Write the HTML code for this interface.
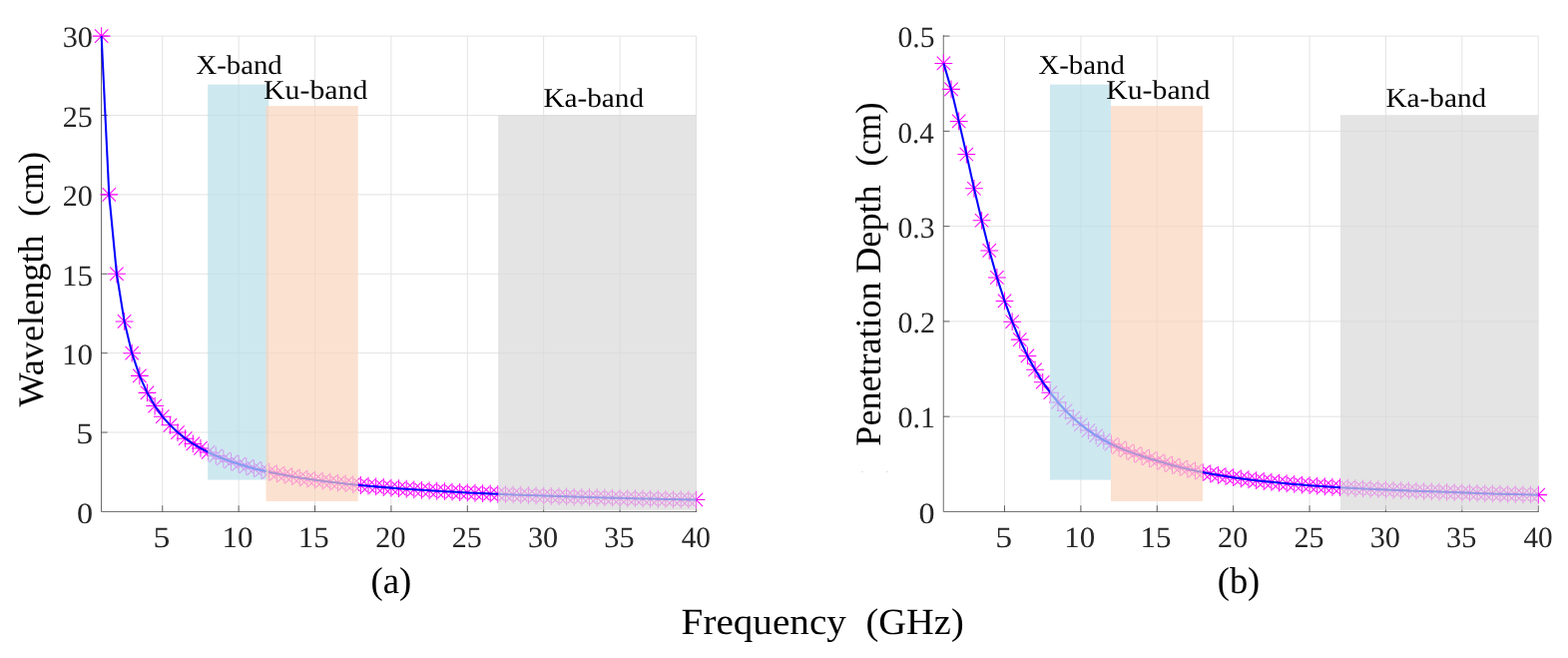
<!DOCTYPE html>
<html lang="en">
<head>
<meta charset="utf-8">
<title>Wavelength and Penetration Depth versus Frequency</title>
<style>
html,body{margin:0;padding:0;background:#ffffff;}
body{width:1571px;height:659px;overflow:hidden;font-family:"Liberation Serif",serif;}
svg text{white-space:pre;text-rendering:geometricPrecision;}
</style>
</head>
<body>
<svg width="1571" height="659" viewBox="0 0 1571 659" font-family="'Liberation Serif', serif" style="display:block">
<line x1="162.76" y1="36.1" x2="162.76" y2="512.45" stroke="#e3e3e3" stroke-width="1.0"/>
<line x1="239.14" y1="36.1" x2="239.14" y2="512.45" stroke="#e3e3e3" stroke-width="1.0"/>
<line x1="315.53" y1="36.1" x2="315.53" y2="512.45" stroke="#e3e3e3" stroke-width="1.0"/>
<line x1="391.91" y1="36.1" x2="391.91" y2="512.45" stroke="#e3e3e3" stroke-width="1.0"/>
<line x1="468.30" y1="36.1" x2="468.30" y2="512.45" stroke="#e3e3e3" stroke-width="1.0"/>
<line x1="544.68" y1="36.1" x2="544.68" y2="512.45" stroke="#e3e3e3" stroke-width="1.0"/>
<line x1="621.07" y1="36.1" x2="621.07" y2="512.45" stroke="#e3e3e3" stroke-width="1.0"/>
<line x1="697.45" y1="36.1" x2="697.45" y2="512.45" stroke="#e3e3e3" stroke-width="1.0"/>
<line x1="101.65" y1="433.06" x2="697.45" y2="433.06" stroke="#e3e3e3" stroke-width="1.0"/>
<line x1="101.65" y1="353.67" x2="697.45" y2="353.67" stroke="#e3e3e3" stroke-width="1.0"/>
<line x1="101.65" y1="274.28" x2="697.45" y2="274.28" stroke="#e3e3e3" stroke-width="1.0"/>
<line x1="101.65" y1="194.88" x2="697.45" y2="194.88" stroke="#e3e3e3" stroke-width="1.0"/>
<line x1="101.65" y1="115.49" x2="697.45" y2="115.49" stroke="#e3e3e3" stroke-width="1.0"/>
<line x1="101.65" y1="36.10" x2="697.45" y2="36.10" stroke="#e3e3e3" stroke-width="1.0"/>
<path d="M101.50 35.7V512.45H697.45" fill="none" stroke="#262626" stroke-width="0.68" stroke-linecap="square"/>
<path d="M162.76 512.45v-6.2M239.14 512.45v-6.2M315.53 512.45v-6.2M391.91 512.45v-6.2M468.30 512.45v-6.2M544.68 512.45v-6.2M621.07 512.45v-6.2M697.45 512.45v-6.2M101.50 433.06h6.2M101.50 353.67h6.2M101.50 274.28h6.2M101.50 194.88h6.2M101.50 115.49h6.2M101.50 36.10h6.2" fill="none" stroke="#262626" stroke-width="0.68"/>
<path d="M92.75 36.10H110.55M101.65 27.20V45.00M94.95 29.40L108.35 42.80M94.95 42.80L108.35 29.40M100.39 194.88H118.19M109.29 185.98V203.78M102.59 188.18L115.99 201.58M102.59 201.58L115.99 188.18M108.03 274.28H125.83M116.93 265.38V283.18M110.23 267.58L123.63 280.98M110.23 280.98L123.63 267.58M115.67 321.91H133.47M124.57 313.01V330.81M117.87 315.21L131.27 328.61M117.87 328.61L131.27 315.21M123.30 353.67H141.10M132.20 344.77V362.57M125.50 346.97L138.90 360.37M125.50 360.37L138.90 346.97M130.94 376.35H148.74M139.84 367.45V385.25M133.14 369.65L146.54 383.05M133.14 383.05L146.54 369.65M138.58 393.36H156.38M147.48 384.46V402.26M140.78 386.66L154.18 400.06M140.78 400.06L154.18 386.66M146.22 406.59H164.02M155.12 397.69V415.49M148.42 399.89L161.82 413.29M148.42 413.29L161.82 399.89M153.86 417.18H171.66M162.76 408.28V426.08M156.06 410.48L169.46 423.88M156.06 423.88L169.46 410.48M161.50 425.84H179.30M170.40 416.94V434.74M163.70 419.14L177.10 432.54M163.70 432.54L177.10 419.14M169.13 433.06H186.94M178.03 424.16V441.96M171.34 426.36L184.73 439.76M171.34 439.76L184.73 426.36M176.77 439.17H194.57M185.67 430.27V448.07M178.97 432.47L192.37 445.87M178.97 445.87L192.37 432.47M184.41 444.40H202.21M193.31 435.50V453.30M186.61 437.70L200.01 451.10M186.61 451.10L200.01 437.70M192.05 448.94H209.85M200.95 440.04V457.84M194.25 442.24L207.65 455.64M194.25 455.64L207.65 442.24M199.69 452.91H217.49M208.59 444.01V461.81M201.89 446.21L215.29 459.61M201.89 459.61L215.29 446.21M207.33 456.41H225.13M216.23 447.51V465.31M209.53 449.71L222.93 463.11M209.53 463.11L222.93 449.71M214.97 459.52H232.77M223.87 450.62V468.42M217.17 452.82L230.57 466.22M217.17 466.22L230.57 452.82M222.60 462.31H240.40M231.50 453.41V471.21M224.80 455.61L238.20 469.01M224.80 469.01L238.20 455.61M230.24 464.82H248.04M239.14 455.92V473.72M232.44 458.12L245.84 471.52M232.44 471.52L245.84 458.12M237.88 467.08H255.68M246.78 458.18V475.98M240.08 460.38L253.48 473.78M240.08 473.78L253.48 460.38M245.52 469.15H263.32M254.42 460.25V478.05M247.72 462.45L261.12 475.85M247.72 475.85L261.12 462.45M253.16 471.03H270.96M262.06 462.13V479.93M255.36 464.33L268.76 477.73M255.36 477.73L268.76 464.33M260.80 472.75H278.60M269.70 463.85V481.65M263.00 466.05L276.40 479.45M263.00 479.45L276.40 466.05M268.44 474.34H286.24M277.34 465.44V483.24M270.64 467.64L284.04 481.04M270.64 481.04L284.04 467.64M276.07 475.81H293.87M284.97 466.91V484.71M278.27 469.11L291.67 482.51M278.27 482.51L291.67 469.11M283.71 477.16H301.51M292.61 468.26V486.06M285.91 470.46L299.31 483.86M285.91 483.86L299.31 470.46M291.35 478.43H309.15M300.25 469.53V487.33M293.55 471.73L306.95 485.13M293.55 485.13L306.95 471.73M298.99 479.60H316.79M307.89 470.70V488.50M301.19 472.90L314.59 486.30M301.19 486.30L314.59 472.90M306.63 480.69H324.43M315.53 471.79V489.59M308.83 473.99L322.23 487.39M308.83 487.39L322.23 473.99M314.27 481.72H332.07M323.17 472.82V490.62M316.47 475.02L329.87 488.42M316.47 488.42L329.87 475.02M321.91 482.68H339.70M330.81 473.78V491.58M324.11 475.98L337.50 489.38M324.11 489.38L337.50 475.98M329.54 483.58H347.34M338.44 474.68V492.48M331.74 476.88L345.14 490.28M331.74 490.28L345.14 476.88M337.18 484.43H354.98M346.08 475.53V493.33M339.38 477.73L352.78 491.13M339.38 491.13L352.78 477.73M344.82 485.23H362.62M353.72 476.33V494.13M347.02 478.53L360.42 491.93M347.02 491.93L360.42 478.53M352.46 485.99H370.26M361.36 477.09V494.89M354.66 479.29L368.06 492.69M354.66 492.69L368.06 479.29M360.10 486.70H377.90M369.00 477.80V495.60M362.30 480.00L375.70 493.40M362.30 493.40L375.70 480.00M367.74 487.38H385.54M376.64 478.48V496.28M369.94 480.68L383.34 494.08M369.94 494.08L383.34 480.68M375.37 488.02H393.17M384.27 479.12V496.92M377.57 481.32L390.97 494.72M377.57 494.72L390.97 481.32M383.01 488.63H400.81M391.91 479.73V497.53M385.21 481.93L398.61 495.33M385.21 495.33L398.61 481.93M390.65 489.21H408.45M399.55 480.31V498.11M392.85 482.51L406.25 495.91M392.85 495.91L406.25 482.51M398.29 489.77H416.09M407.19 480.87V498.67M400.49 483.07L413.89 496.47M400.49 496.47L413.89 483.07M405.93 490.29H423.73M414.83 481.39V499.19M408.13 483.59L421.53 496.99M408.13 496.99L421.53 483.59M413.57 490.80H431.37M422.47 481.90V499.70M415.77 484.10L429.17 497.50M415.77 497.50L429.17 484.10M421.21 491.28H439.01M430.11 482.38V500.18M423.41 484.58L436.81 497.98M423.41 497.98L436.81 484.58M428.84 491.74H446.64M437.74 482.84V500.64M431.04 485.04L444.44 498.44M431.04 498.44L444.44 485.04M436.48 492.18H454.28M445.38 483.28V501.08M438.68 485.48L452.08 498.88M438.68 498.88L452.08 485.48M444.12 492.60H461.92M453.02 483.70V501.50M446.32 485.90L459.72 499.30M446.32 499.30L459.72 485.90M451.76 493.01H469.56M460.66 484.11V501.91M453.96 486.31L467.36 499.71M453.96 499.71L467.36 486.31M459.40 493.40H477.20M468.30 484.50V502.30M461.60 486.70L475.00 500.10M461.60 500.10L475.00 486.70M467.04 493.77H484.84M475.94 484.87V502.67M469.24 487.07L482.64 500.47M469.24 500.47L482.64 487.07M474.67 494.13H492.47M483.57 485.23V503.03M476.87 487.43L490.27 500.83M476.87 500.83L490.27 487.43M482.31 494.47H500.11M491.21 485.57V503.37M484.51 487.77L497.91 501.17M484.51 501.17L497.91 487.77M489.95 494.81H507.75M498.85 485.91V503.71M492.15 488.11L505.55 501.51M492.15 501.51L505.55 488.11M497.59 495.13H515.39M506.49 486.23V504.03M499.79 488.43L513.19 501.83M499.79 501.83L513.19 488.43M505.23 495.44H523.03M514.13 486.54V504.34M507.43 488.74L520.83 502.14M507.43 502.14L520.83 488.74M512.87 495.74H530.67M521.77 486.84V504.64M515.07 489.04L528.47 502.44M515.07 502.44L528.47 489.04M520.51 496.02H538.31M529.41 487.12V504.92M522.71 489.32L536.11 502.72M522.71 502.72L536.11 489.32M528.14 496.30H545.94M537.04 487.40V505.20M530.34 489.60L543.74 503.00M530.34 503.00L543.74 489.60M535.78 496.57H553.58M544.68 487.67V505.47M537.98 489.87L551.38 503.27M537.98 503.27L551.38 489.87M543.42 496.83H561.22M552.32 487.93V505.73M545.62 490.13L559.02 503.53M545.62 503.53L559.02 490.13M551.06 497.08H568.86M559.96 488.18V505.98M553.26 490.38L566.66 503.78M553.26 503.78L566.66 490.38M558.70 497.33H576.50M567.60 488.43V506.23M560.90 490.63L574.30 504.03M560.90 504.03L574.30 490.63M566.34 497.56H584.14M575.24 488.66V506.46M568.54 490.86L581.94 504.26M568.54 504.26L581.94 490.86M573.98 497.79H591.78M582.88 488.89V506.69M576.18 491.09L589.58 504.49M576.18 504.49L589.58 491.09M581.61 498.02H599.41M590.51 489.12V506.92M583.81 491.32L597.21 504.72M583.81 504.72L597.21 491.32M589.25 498.23H607.05M598.15 489.33V507.13M591.45 491.53L604.85 504.93M591.45 504.93L604.85 491.53M596.89 498.44H614.69M605.79 489.54V507.34M599.09 491.74L612.49 505.14M599.09 505.14L612.49 491.74M604.53 498.64H622.33M613.43 489.74V507.54M606.73 491.94L620.13 505.34M606.73 505.34L620.13 491.94M612.17 498.84H629.97M621.07 489.94V507.74M614.37 492.14L627.77 505.54M614.37 505.54L627.77 492.14M619.81 499.03H637.61M628.71 490.13V507.93M622.01 492.33L635.41 505.73M622.01 505.73L635.41 492.33M627.44 499.22H645.24M636.34 490.32V508.12M629.64 492.52L643.04 505.92M629.64 505.92L643.04 492.52M635.08 499.40H652.88M643.98 490.50V508.30M637.28 492.70L650.68 506.10M637.28 506.10L650.68 492.70M642.72 499.58H660.52M651.62 490.68V508.48M644.92 492.88L658.32 506.28M644.92 506.28L658.32 492.88M650.36 499.75H668.16M659.26 490.85V508.65M652.56 493.05L665.96 506.45M652.56 506.45L665.96 493.05M658.00 499.91H675.80M666.90 491.01V508.81M660.20 493.21L673.60 506.61M660.20 506.61L673.60 493.21M665.64 500.08H683.44M674.54 491.18V508.98M667.84 493.38L681.24 506.78M667.84 506.78L681.24 493.38M673.28 500.24H691.08M682.18 491.34V509.14M675.48 493.54L688.88 506.94M675.48 506.94L688.88 493.54M680.91 500.39H698.71M689.81 491.49V509.29M683.11 493.69L696.51 507.09M683.11 507.09L696.51 493.69M688.55 500.54H706.35M697.45 491.64V509.44M690.75 493.84L704.15 507.24M690.75 507.24L704.15 493.84" fill="none" stroke="#ff00ff" stroke-width="1.05"/>
<polyline points="101.65,36.10 109.29,194.88 116.93,274.28 124.57,321.91 132.20,353.67 139.84,376.35 147.48,393.36 155.12,406.59 162.76,417.18 170.40,425.84 178.03,433.06 185.67,439.17 193.31,444.40 200.95,448.94 208.59,452.91 216.23,456.41 223.87,459.52 231.50,462.31 239.14,464.82 246.78,467.08 254.42,469.15 262.06,471.03 269.70,472.75 277.34,474.34 284.97,475.81 292.61,477.16 300.25,478.43 307.89,479.60 315.53,480.69 323.17,481.72 330.81,482.68 338.44,483.58 346.08,484.43 353.72,485.23 361.36,485.99 369.00,486.70 376.64,487.38 384.27,488.02 391.91,488.63 399.55,489.21 407.19,489.77 414.83,490.29 422.47,490.80 430.11,491.28 437.74,491.74 445.38,492.18 453.02,492.60 460.66,493.01 468.30,493.40 475.94,493.77 483.57,494.13 491.21,494.47 498.85,494.81 506.49,495.13 514.13,495.44 521.77,495.74 529.41,496.02 537.04,496.30 544.68,496.57 552.32,496.83 559.96,497.08 567.60,497.33 575.24,497.56 582.88,497.79 590.51,498.02 598.15,498.23 605.79,498.44 613.43,498.64 621.07,498.84 628.71,499.03 636.34,499.22 643.98,499.40 651.62,499.58 659.26,499.75 666.90,499.91 674.54,500.08 682.18,500.24 689.81,500.39 697.45,500.54" fill="none" stroke="#0000ff" stroke-width="2.05" stroke-linejoin="round"/>
<rect x="208.15" y="84.65" width="61.05" height="395.95" fill="#b9deea" fill-opacity="0.7"/>
<rect x="266.50" y="106.10" width="92.25" height="395.90" fill="#f9d4bc" fill-opacity="0.7"/>
<rect x="499.15" y="115.15" width="198.45" height="395.65" fill="#d9d9d9" fill-opacity="0.7"/>
<line x1="1006.51" y1="36.1" x2="1006.51" y2="512.45" stroke="#e3e3e3" stroke-width="1.0"/>
<line x1="1082.89" y1="36.1" x2="1082.89" y2="512.45" stroke="#e3e3e3" stroke-width="1.0"/>
<line x1="1159.28" y1="36.1" x2="1159.28" y2="512.45" stroke="#e3e3e3" stroke-width="1.0"/>
<line x1="1235.66" y1="36.1" x2="1235.66" y2="512.45" stroke="#e3e3e3" stroke-width="1.0"/>
<line x1="1312.05" y1="36.1" x2="1312.05" y2="512.45" stroke="#e3e3e3" stroke-width="1.0"/>
<line x1="1388.43" y1="36.1" x2="1388.43" y2="512.45" stroke="#e3e3e3" stroke-width="1.0"/>
<line x1="1464.82" y1="36.1" x2="1464.82" y2="512.45" stroke="#e3e3e3" stroke-width="1.0"/>
<line x1="1541.20" y1="36.1" x2="1541.20" y2="512.45" stroke="#e3e3e3" stroke-width="1.0"/>
<line x1="945.4" y1="417.18" x2="1541.20" y2="417.18" stroke="#e3e3e3" stroke-width="1.0"/>
<line x1="945.4" y1="321.91" x2="1541.20" y2="321.91" stroke="#e3e3e3" stroke-width="1.0"/>
<line x1="945.4" y1="226.64" x2="1541.20" y2="226.64" stroke="#e3e3e3" stroke-width="1.0"/>
<line x1="945.4" y1="131.37" x2="1541.20" y2="131.37" stroke="#e3e3e3" stroke-width="1.0"/>
<line x1="945.4" y1="36.10" x2="1541.20" y2="36.10" stroke="#e3e3e3" stroke-width="1.0"/>
<path d="M945.25 35.7V512.45H1541.20" fill="none" stroke="#262626" stroke-width="0.68" stroke-linecap="square"/>
<path d="M1006.51 512.45v-6.2M1082.89 512.45v-6.2M1159.28 512.45v-6.2M1235.66 512.45v-6.2M1312.05 512.45v-6.2M1388.43 512.45v-6.2M1464.82 512.45v-6.2M1541.20 512.45v-6.2M945.25 417.18h6.2M945.25 321.91h6.2M945.25 226.64h6.2M945.25 131.37h6.2M945.25 36.10h6.2" fill="none" stroke="#262626" stroke-width="0.68"/>
<path d="M936.50 63.40H954.30M945.40 54.50V72.30M938.70 56.70L952.10 70.10M938.70 70.10L952.10 56.70M944.14 89.35H961.94M953.04 80.45V98.25M946.34 82.65L959.74 96.05M946.34 96.05L959.74 82.65M951.78 121.40H969.58M960.68 112.50V130.30M953.98 114.70L967.38 128.10M953.98 128.10L967.38 114.70M959.42 154.55H977.22M968.32 145.65V163.45M961.62 147.85L975.02 161.25M961.62 161.25L975.02 147.85M967.05 188.80H984.85M975.95 179.90V197.70M969.25 182.10L982.65 195.50M969.25 195.50L982.65 182.10M974.69 220.80H992.49M983.59 211.90V229.70M976.89 214.10L990.29 227.50M976.89 227.50L990.29 214.10M982.33 250.90H1000.13M991.23 242.00V259.80M984.53 244.20L997.93 257.60M984.53 257.60L997.93 244.20M989.97 277.90H1007.77M998.87 269.00V286.80M992.17 271.20L1005.57 284.60M992.17 284.60L1005.57 271.20M997.61 301.40H1015.41M1006.51 292.50V310.30M999.81 294.70L1013.21 308.10M999.81 308.10L1013.21 294.70M1005.25 322.20H1023.05M1014.15 313.30V331.10M1007.45 315.50L1020.85 328.90M1007.45 328.90L1020.85 315.50M1012.88 340.10H1030.68M1021.78 331.20V349.00M1015.08 333.40L1028.48 346.80M1015.08 346.80L1028.48 333.40M1020.52 356.40H1038.32M1029.42 347.50V365.30M1022.72 349.70L1036.12 363.10M1022.72 363.10L1036.12 349.70M1028.16 370.30H1045.96M1037.06 361.40V379.20M1030.36 363.60L1043.76 377.00M1030.36 377.00L1043.76 363.60M1035.80 382.79H1053.60M1044.70 373.89V391.69M1038.00 376.09L1051.40 389.49M1038.00 389.49L1051.40 376.09M1043.44 393.22H1061.24M1052.34 384.32V402.12M1045.64 386.52L1059.04 399.92M1045.64 399.92L1059.04 386.52M1051.08 402.95H1068.88M1059.98 394.05V411.85M1053.28 396.25L1066.68 409.65M1053.28 409.65L1066.68 396.25M1058.72 411.26H1076.52M1067.62 402.36V420.16M1060.92 404.56L1074.32 417.96M1060.92 417.96L1074.32 404.56M1066.35 418.68H1084.15M1075.25 409.78V427.58M1068.55 411.98L1081.95 425.38M1068.55 425.38L1081.95 411.98M1073.99 425.20H1091.79M1082.89 416.30V434.10M1076.19 418.50L1089.59 431.90M1076.19 431.90L1089.59 418.50M1081.63 431.06H1099.43M1090.53 422.16V439.96M1083.83 424.36L1097.23 437.76M1083.83 437.76L1097.23 424.36M1089.27 436.24H1107.07M1098.17 427.34V445.14M1091.47 429.54L1104.87 442.94M1091.47 442.94L1104.87 429.54M1096.91 440.79H1114.71M1105.81 431.89V449.69M1099.11 434.09L1112.51 447.49M1099.11 447.49L1112.51 434.09M1104.55 444.77H1122.35M1113.45 435.87V453.67M1106.75 438.07L1120.15 451.47M1106.75 451.47L1120.15 438.07M1112.19 448.25H1129.99M1121.09 439.35V457.15M1114.39 441.55L1127.79 454.95M1114.39 454.95L1127.79 441.55M1119.82 451.34H1137.62M1128.72 442.44V460.24M1122.02 444.64L1135.42 458.04M1122.02 458.04L1135.42 444.64M1127.46 454.15H1145.26M1136.36 445.25V463.05M1129.66 447.45L1143.06 460.85M1129.66 460.85L1143.06 447.45M1135.10 456.75H1152.90M1144.00 447.85V465.65M1137.30 450.05L1150.70 463.45M1137.30 463.45L1150.70 450.05M1142.74 459.19H1160.54M1151.64 450.29V468.09M1144.94 452.49L1158.34 465.89M1144.94 465.89L1158.34 452.49M1150.38 461.52H1168.18M1159.28 452.62V470.42M1152.58 454.82L1165.98 468.22M1152.58 468.22L1165.98 454.82M1158.02 463.76H1175.82M1166.92 454.86V472.66M1160.22 457.06L1173.62 470.46M1160.22 470.46L1173.62 457.06M1165.65 465.89H1183.46M1174.56 456.99V474.79M1167.86 459.19L1181.26 472.59M1167.86 472.59L1181.26 459.19M1173.29 467.88H1191.09M1182.19 458.98V476.78M1175.49 461.18L1188.89 474.58M1175.49 474.58L1188.89 461.18M1180.93 469.75H1198.73M1189.83 460.85V478.65M1183.13 463.05L1196.53 476.45M1183.13 476.45L1196.53 463.05M1188.57 471.48H1206.37M1197.47 462.58V480.38M1190.77 464.78L1204.17 478.18M1190.77 478.18L1204.17 464.78M1196.21 473.06H1214.01M1205.11 464.16V481.96M1198.41 466.36L1211.81 479.76M1198.41 479.76L1211.81 466.36M1203.85 474.52H1221.65M1212.75 465.62V483.42M1206.05 467.82L1219.45 481.22M1206.05 481.22L1219.45 467.82M1211.49 475.86H1229.29M1220.39 466.96V484.76M1213.69 469.16L1227.09 482.56M1213.69 482.56L1227.09 469.16M1219.12 477.09H1236.92M1228.02 468.19V485.99M1221.32 470.39L1234.72 483.79M1221.32 483.79L1234.72 470.39M1226.76 478.22H1244.56M1235.66 469.32V487.12M1228.96 471.52L1242.36 484.92M1228.96 484.92L1242.36 471.52M1234.40 479.28H1252.20M1243.30 470.38V488.18M1236.60 472.58L1250.00 485.98M1236.60 485.98L1250.00 472.58M1242.04 480.25H1259.84M1250.94 471.35V489.15M1244.24 473.55L1257.64 486.95M1244.24 486.95L1257.64 473.55M1249.68 481.17H1267.48M1258.58 472.27V490.07M1251.88 474.47L1265.28 487.87M1251.88 487.87L1265.28 474.47M1257.32 482.02H1275.12M1266.22 473.12V490.92M1259.52 475.32L1272.92 488.72M1259.52 488.72L1272.92 475.32M1264.96 482.81H1282.76M1273.86 473.91V491.71M1267.16 476.11L1280.56 489.51M1267.16 489.51L1280.56 476.11M1272.59 483.56H1290.39M1281.49 474.66V492.46M1274.79 476.86L1288.19 490.26M1274.79 490.26L1288.19 476.86M1280.23 484.27H1298.03M1289.13 475.37V493.17M1282.43 477.57L1295.83 490.97M1282.43 490.97L1295.83 477.57M1287.87 484.93H1305.67M1296.77 476.03V493.83M1290.07 478.23L1303.47 491.63M1290.07 491.63L1303.47 478.23M1295.51 485.55H1313.31M1304.41 476.65V494.45M1297.71 478.85L1311.11 492.25M1297.71 492.25L1311.11 478.85M1303.15 486.15H1320.95M1312.05 477.25V495.05M1305.35 479.45L1318.75 492.85M1305.35 492.85L1318.75 479.45M1310.79 486.71H1328.59M1319.69 477.81V495.61M1312.99 480.01L1326.39 493.41M1312.99 493.41L1326.39 480.01M1318.42 487.24H1336.22M1327.32 478.34V496.14M1320.62 480.54L1334.02 493.94M1320.62 493.94L1334.02 480.54M1326.06 487.73H1343.86M1334.96 478.83V496.63M1328.26 481.03L1341.66 494.43M1328.26 494.43L1341.66 481.03M1333.70 488.20H1351.50M1342.60 479.30V497.10M1335.90 481.50L1349.30 494.90M1335.90 494.90L1349.30 481.50M1341.34 488.63H1359.14M1350.24 479.73V497.53M1343.54 481.93L1356.94 495.33M1343.54 495.33L1356.94 481.93M1348.98 489.04H1366.78M1357.88 480.14V497.94M1351.18 482.34L1364.58 495.74M1351.18 495.74L1364.58 482.34M1356.62 489.43H1374.42M1365.52 480.53V498.33M1358.82 482.73L1372.22 496.13M1358.82 496.13L1372.22 482.73M1364.26 489.79H1382.06M1373.16 480.89V498.69M1366.46 483.09L1379.86 496.49M1366.46 496.49L1379.86 483.09M1371.89 490.14H1389.69M1380.79 481.24V499.04M1374.09 483.44L1387.49 496.84M1374.09 496.84L1387.49 483.44M1379.53 490.48H1397.33M1388.43 481.58V499.38M1381.73 483.78L1395.13 497.18M1381.73 497.18L1395.13 483.78M1387.17 490.80H1404.97M1396.07 481.90V499.70M1389.37 484.10L1402.77 497.50M1389.37 497.50L1402.77 484.10M1394.81 491.11H1412.61M1403.71 482.21V500.01M1397.01 484.41L1410.41 497.81M1397.01 497.81L1410.41 484.41M1402.45 491.41H1420.25M1411.35 482.51V500.31M1404.65 484.71L1418.05 498.11M1404.65 498.11L1418.05 484.71M1410.09 491.70H1427.89M1418.99 482.80V500.60M1412.29 485.00L1425.69 498.40M1412.29 498.40L1425.69 485.00M1417.73 491.99H1435.53M1426.63 483.09V500.89M1419.93 485.29L1433.33 498.69M1419.93 498.69L1433.33 485.29M1425.36 492.27H1443.16M1434.26 483.37V501.17M1427.56 485.57L1440.96 498.97M1427.56 498.97L1440.96 485.57M1433.00 492.55H1450.80M1441.90 483.65V501.45M1435.20 485.85L1448.60 499.25M1435.20 499.25L1448.60 485.85M1440.64 492.83H1458.44M1449.54 483.93V501.73M1442.84 486.13L1456.24 499.53M1442.84 499.53L1456.24 486.13M1448.28 493.10H1466.08M1457.18 484.20V502.00M1450.48 486.40L1463.88 499.80M1450.48 499.80L1463.88 486.40M1455.92 493.37H1473.72M1464.82 484.47V502.27M1458.12 486.67L1471.52 500.07M1458.12 500.07L1471.52 486.67M1463.56 493.64H1481.36M1472.46 484.74V502.54M1465.76 486.94L1479.16 500.34M1465.76 500.34L1479.16 486.94M1471.19 493.91H1488.99M1480.09 485.01V502.81M1473.39 487.21L1486.79 500.61M1473.39 500.61L1486.79 487.21M1478.83 494.17H1496.63M1487.73 485.27V503.07M1481.03 487.47L1494.43 500.87M1481.03 500.87L1494.43 487.47M1486.47 494.42H1504.27M1495.37 485.52V503.32M1488.67 487.72L1502.07 501.12M1488.67 501.12L1502.07 487.72M1494.11 494.65H1511.91M1503.01 485.75V503.55M1496.31 487.95L1509.71 501.35M1496.31 501.35L1509.71 487.95M1501.75 494.88H1519.55M1510.65 485.98V503.78M1503.95 488.18L1517.35 501.58M1503.95 501.58L1517.35 488.18M1509.39 495.08H1527.19M1518.29 486.18V503.98M1511.59 488.38L1524.99 501.78M1511.59 501.78L1524.99 488.38M1517.03 495.28H1534.83M1525.93 486.38V504.18M1519.23 488.58L1532.63 501.98M1519.23 501.98L1532.63 488.58M1524.66 495.45H1542.46M1533.56 486.55V504.35M1526.86 488.75L1540.26 502.15M1526.86 502.15L1540.26 488.75M1532.30 495.61H1550.10M1541.20 486.71V504.51M1534.50 488.91L1547.90 502.31M1534.50 502.31L1547.90 488.91" fill="none" stroke="#ff00ff" stroke-width="1.05"/>
<polyline points="945.40,63.40 953.04,89.35 960.68,121.40 968.32,154.55 975.95,188.80 983.59,220.80 991.23,250.90 998.87,277.90 1006.51,301.40 1014.15,322.20 1021.78,340.10 1029.42,356.40 1037.06,370.30 1044.70,382.79 1052.34,393.22 1059.98,402.95 1067.62,411.26 1075.25,418.68 1082.89,425.20 1090.53,431.06 1098.17,436.24 1105.81,440.79 1113.45,444.77 1121.09,448.25 1128.72,451.34 1136.36,454.15 1144.00,456.75 1151.64,459.19 1159.28,461.52 1166.92,463.76 1174.56,465.89 1182.19,467.88 1189.83,469.75 1197.47,471.48 1205.11,473.06 1212.75,474.52 1220.39,475.86 1228.02,477.09 1235.66,478.22 1243.30,479.28 1250.94,480.25 1258.58,481.17 1266.22,482.02 1273.86,482.81 1281.49,483.56 1289.13,484.27 1296.77,484.93 1304.41,485.55 1312.05,486.15 1319.69,486.71 1327.32,487.24 1334.96,487.73 1342.60,488.20 1350.24,488.63 1357.88,489.04 1365.52,489.43 1373.16,489.79 1380.79,490.14 1388.43,490.48 1396.07,490.80 1403.71,491.11 1411.35,491.41 1418.99,491.70 1426.63,491.99 1434.26,492.27 1441.90,492.55 1449.54,492.83 1457.18,493.10 1464.82,493.37 1472.46,493.64 1480.09,493.91 1487.73,494.17 1495.37,494.42 1503.01,494.65 1510.65,494.88 1518.29,495.08 1525.93,495.28 1533.56,495.45 1541.20,495.61" fill="none" stroke="#0000ff" stroke-width="2.05" stroke-linejoin="round"/>
<rect x="1052.00" y="84.65" width="61.00" height="395.95" fill="#b9deea" fill-opacity="0.7"/>
<rect x="1113.00" y="106.10" width="92.00" height="395.90" fill="#f9d4bc" fill-opacity="0.7"/>
<rect x="1343.00" y="115.15" width="197.90" height="395.65" fill="#d9d9d9" fill-opacity="0.7"/>
<rect x="863" y="472" width="2" height="1" fill="#e4e4e4"/>
<rect x="888" y="472" width="1.6" height="1" fill="#dddddd"/>
<text transform="translate(0 548.00)" font-size="29.6" fill="#262626"><tspan x="153.53" textLength="16.88" lengthAdjust="spacingAndGlyphs">5</tspan></text>
<text transform="translate(0 548.00)" font-size="29.6" fill="#262626"><tspan x="222.46" textLength="30.92" lengthAdjust="spacingAndGlyphs">10</tspan></text>
<text transform="translate(0 548.00)" font-size="29.6" fill="#262626"><tspan x="298.85" textLength="30.92" lengthAdjust="spacingAndGlyphs">15</tspan></text>
<text transform="translate(0 548.00)" font-size="29.6" fill="#262626"><tspan x="376.36" textLength="30.05" lengthAdjust="spacingAndGlyphs">20</tspan></text>
<text transform="translate(0 548.00)" font-size="29.6" fill="#262626"><tspan x="452.75" textLength="30.05" lengthAdjust="spacingAndGlyphs">25</tspan></text>
<text transform="translate(0 548.00)" font-size="29.6" fill="#262626"><tspan x="528.97" textLength="30.22" lengthAdjust="spacingAndGlyphs">30</tspan></text>
<text transform="translate(0 548.00)" font-size="29.6" fill="#262626"><tspan x="605.36" textLength="30.22" lengthAdjust="spacingAndGlyphs">35</tspan></text>
<text transform="translate(0 548.00)" font-size="29.6" fill="#262626"><tspan x="682.67" textLength="29.26" lengthAdjust="spacingAndGlyphs">40</tspan></text>
<text transform="translate(0 523.75)" font-size="29.6" fill="#262626"><tspan x="76.91" textLength="16.07" lengthAdjust="spacingAndGlyphs">0</tspan></text>
<text transform="translate(0 444.36)" font-size="29.6" fill="#262626"><tspan x="76.17" textLength="16.88" lengthAdjust="spacingAndGlyphs">5</tspan></text>
<text transform="translate(0 364.97)" font-size="29.6" fill="#262626"><tspan x="62.02" textLength="30.92" lengthAdjust="spacingAndGlyphs">10</tspan></text>
<text transform="translate(0 285.58)" font-size="29.6" fill="#262626"><tspan x="62.02" textLength="30.92" lengthAdjust="spacingAndGlyphs">15</tspan></text>
<text transform="translate(0 206.18)" font-size="29.6" fill="#262626"><tspan x="62.85" textLength="30.05" lengthAdjust="spacingAndGlyphs">20</tspan></text>
<text transform="translate(0 126.79)" font-size="29.6" fill="#262626"><tspan x="62.85" textLength="30.05" lengthAdjust="spacingAndGlyphs">25</tspan></text>
<text transform="translate(0 47.40)" font-size="29.6" fill="#262626"><tspan x="62.69" textLength="30.22" lengthAdjust="spacingAndGlyphs">30</tspan></text>
<text transform="translate(0 548.00)" font-size="29.6" fill="#262626"><tspan x="997.28" textLength="16.88" lengthAdjust="spacingAndGlyphs">5</tspan></text>
<text transform="translate(0 548.00)" font-size="29.6" fill="#262626"><tspan x="1066.21" textLength="30.92" lengthAdjust="spacingAndGlyphs">10</tspan></text>
<text transform="translate(0 548.00)" font-size="29.6" fill="#262626"><tspan x="1142.60" textLength="30.92" lengthAdjust="spacingAndGlyphs">15</tspan></text>
<text transform="translate(0 548.00)" font-size="29.6" fill="#262626"><tspan x="1220.11" textLength="30.05" lengthAdjust="spacingAndGlyphs">20</tspan></text>
<text transform="translate(0 548.00)" font-size="29.6" fill="#262626"><tspan x="1296.50" textLength="30.05" lengthAdjust="spacingAndGlyphs">25</tspan></text>
<text transform="translate(0 548.00)" font-size="29.6" fill="#262626"><tspan x="1372.72" textLength="30.22" lengthAdjust="spacingAndGlyphs">30</tspan></text>
<text transform="translate(0 548.00)" font-size="29.6" fill="#262626"><tspan x="1449.11" textLength="30.22" lengthAdjust="spacingAndGlyphs">35</tspan></text>
<text transform="translate(0 548.00)" font-size="29.6" fill="#262626"><tspan x="1526.42" textLength="29.26" lengthAdjust="spacingAndGlyphs">40</tspan></text>
<text transform="translate(0 523.75)" font-size="29.6" fill="#262626"><tspan x="920.51" textLength="16.07" lengthAdjust="spacingAndGlyphs">0</tspan></text>
<text transform="translate(0 428.48)" font-size="29.6" fill="#262626"><tspan x="899.50" textLength="37.61" lengthAdjust="spacingAndGlyphs">0.1</tspan></text>
<text transform="translate(0 333.21)" font-size="29.6" fill="#262626"><tspan x="899.50" textLength="37.45" lengthAdjust="spacingAndGlyphs">0.2</tspan></text>
<text transform="translate(0 237.94)" font-size="29.6" fill="#262626"><tspan x="899.52" textLength="36.97" lengthAdjust="spacingAndGlyphs">0.3</tspan></text>
<text transform="translate(0 142.67)" font-size="29.6" fill="#262626"><tspan x="899.54" textLength="36.19" lengthAdjust="spacingAndGlyphs">0.4</tspan></text>
<text transform="translate(0 47.40)" font-size="29.6" fill="#262626"><tspan x="899.52" textLength="36.97" lengthAdjust="spacingAndGlyphs">0.5</tspan></text>
<text transform="translate(0 74.30)" font-size="27.0" fill="#000000"><tspan x="196.42" textLength="86.28" lengthAdjust="spacingAndGlyphs">X-band</tspan></text>
<text transform="translate(0 98.50)" font-size="27.0" fill="#000000"><tspan x="264.11" textLength="104.21" lengthAdjust="spacingAndGlyphs">Ku-band</tspan></text>
<text transform="translate(0 107.40)" font-size="27.0" fill="#000000"><tspan x="544.42" textLength="100.65" lengthAdjust="spacingAndGlyphs">Ka-band</tspan></text>
<text transform="translate(0 74.30)" font-size="27.0" fill="#000000"><tspan x="1040.52" textLength="86.28" lengthAdjust="spacingAndGlyphs">X-band</tspan></text>
<text transform="translate(0 98.50)" font-size="27.0" fill="#000000"><tspan x="1108.21" textLength="104.21" lengthAdjust="spacingAndGlyphs">Ku-band</tspan></text>
<text transform="translate(0 107.40)" font-size="27.0" fill="#000000"><tspan x="1388.52" textLength="100.65" lengthAdjust="spacingAndGlyphs">Ka-band</tspan></text>
<text transform="translate(43.40 0) rotate(-90)" font-size="36.0" fill="#000000"><tspan x="-407.60" textLength="172.20" lengthAdjust="spacingAndGlyphs">Wavelength</tspan> <tspan x="-216.64" textLength="64.50" lengthAdjust="spacingAndGlyphs">(cm)</tspan></text>
<text transform="translate(882.20 0) rotate(-90)" font-size="36.0" fill="#000000"><tspan x="-446.68" textLength="164.19" lengthAdjust="spacingAndGlyphs">Penetration</tspan> <tspan x="-273.79" textLength="88.49" lengthAdjust="spacingAndGlyphs">Depth</tspan> <tspan x="-166.53" textLength="64.08" lengthAdjust="spacingAndGlyphs">(cm)</tspan></text>
<text transform="translate(0 635.00)" font-size="37.0" fill="#000000"><tspan x="682.63" textLength="165.20" lengthAdjust="spacingAndGlyphs">Frequency</tspan> <tspan x="867.57" textLength="98.13" lengthAdjust="spacingAndGlyphs">(GHz)</tspan></text>
<text transform="translate(0 594.30)" font-size="37.5" fill="#000000"><tspan x="371.45" textLength="40.81" lengthAdjust="spacingAndGlyphs">(a)</tspan></text>
<text transform="translate(0 594.30)" font-size="37.5" fill="#000000"><tspan x="1219.76" textLength="42.52" lengthAdjust="spacingAndGlyphs">(b)</tspan></text>
</svg>
</body>
</html>
